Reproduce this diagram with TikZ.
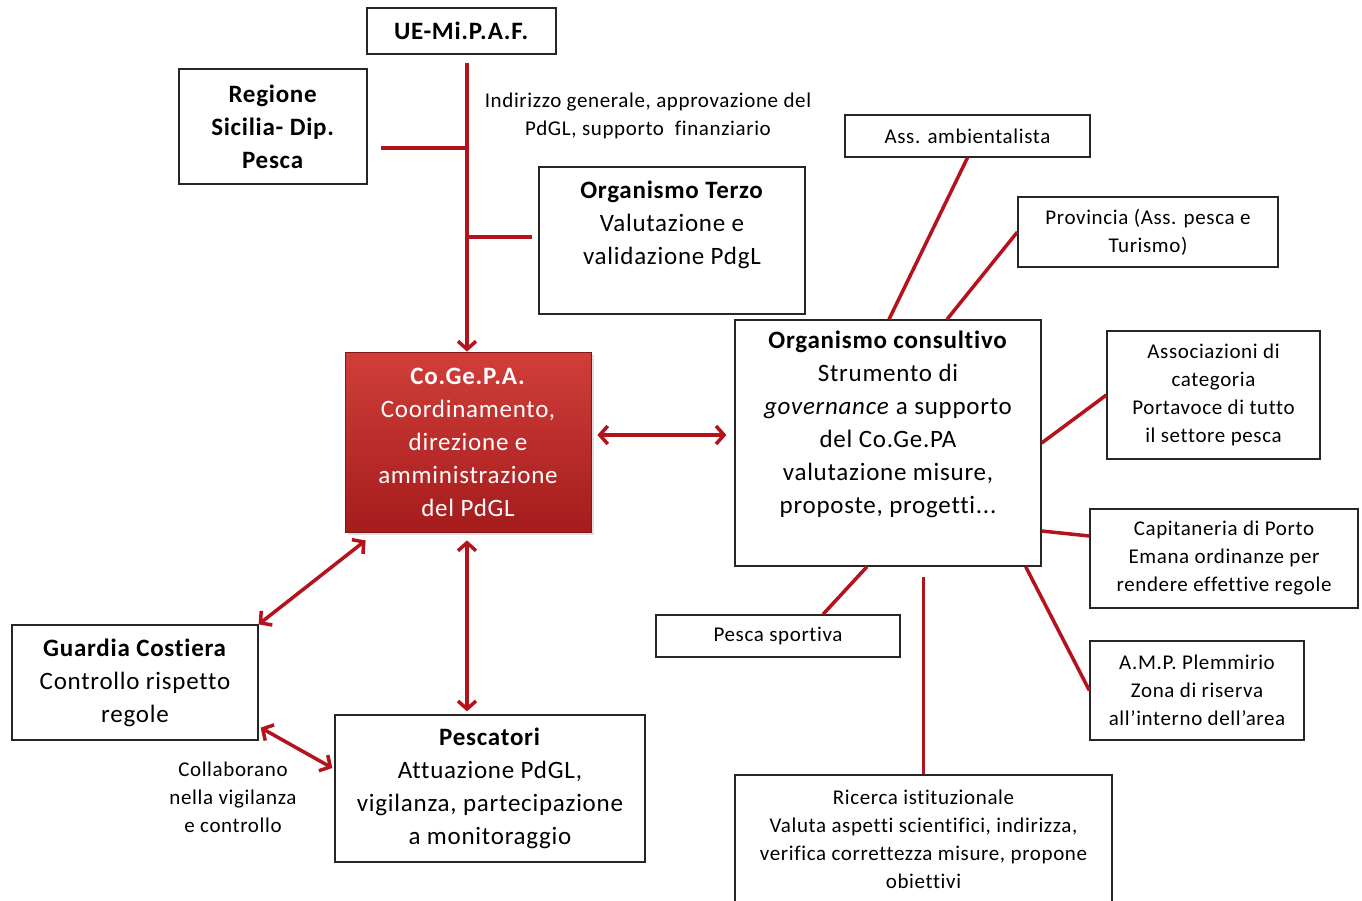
\documentclass[tikz,border=0pt]{standalone}
\usepackage{fontspec}
\setmainfont{Carlito}[LetterSpace=3,Ligatures={NoCommon}]
\usetikzlibrary{arrows.meta,shadows}
\definecolor{lnred}{RGB}{180,18,28}
\definecolor{cogtop}{RGB}{208,62,58}
\definecolor{cogbot}{RGB}{165,28,28}
\tikzset{
  box/.style={draw=black!85, line width=1.3pt, fill=white, inner sep=0pt, align=center},
  bigtxt/.style={font=\fontsize{25}{33}\selectfont},
  smalltxt/.style={font=\fontsize{21}{28}\selectfont},
  link/.style={draw=lnred, line width=3.5pt},
  barb/.tip={Straight Barb[length=8pt,width=18pt]},
  dbl/.style={link, barb-barb},
  sgl/.style={link, -barb},
}
\begin{document}
\begin{tikzpicture}[x=1pt,y=-1pt]
\useasboundingbox[fill=white] (0,0) rectangle (1362,901);

% --- left / top part
\node[box, bigtxt, minimum width=189, minimum height=46] (ue) at (461.5,31) {\textbf{UE-Mi.P.A.F.}};
\node[box, bigtxt, minimum width=188, minimum height=115] (reg) at (273,126.5) {\textbf{Regione}\\\textbf{Sicilia- Dip.}\\\textbf{Pesca}};
\node[box, minimum width=266, minimum height=147] (terzo) at (672,240.5) {};
\node[bigtxt, align=center, inner sep=0pt] (terzot) at (672,224.5) {\textbf{Organismo Terzo}\\Valutazione e\\validazione PdgL};
\node[smalltxt, align=center, inner sep=0pt] (indir) at (648,116) {Indirizzo generale, approvazione del\\PdGL, supporto\ \ finanziario};

\node[draw=cogbot!80!black, line width=0.8pt, top color=cogtop, bottom color=cogbot, minimum width=246, minimum height=180, inner sep=0pt, align=center, text=white, bigtxt, drop shadow={opacity=0.25, shadow xshift=3pt, shadow yshift=-3pt}] (cog) at (468,442) {\textbf{Co.Ge.P.A.}\\Coordinamento,\\direzione e\\amministrazione\\del PdGL};

\node[box, bigtxt, minimum width=246, minimum height=115] (guard) at (135,682.5) {\textbf{Guardia Costiera}\\Controllo rispetto\\regole};
\node[box, bigtxt, minimum width=310, minimum height=147] (pesc) at (490,788.5) {\textbf{Pescatori}\\Attuazione PdGL,\\vigilanza, partecipazione\\a monitoraggio};
\node[smalltxt, align=center, inner sep=0pt] (collab) at (233,797) {Collaborano\\nella vigilanza\\e controllo};

% --- right part
\node[box, minimum width=306, minimum height=246] (cons) at (888,443) {};
\node[bigtxt, align=center, inner sep=0pt] (const) at (888,424.5) {\textbf{Organismo consultivo}\\Strumento di\\\textit{governance} a supporto\\del Co.Ge.PA\\valutazione misure,\\proposte, progetti...};
\node[box, smalltxt, minimum width=245, minimum height=42] (amb) at (967.5,136) {Ass. ambientalista};
\node[box, smalltxt, minimum width=260, minimum height=70] (prov) at (1148,232) {Provincia (Ass. pesca e\\Turismo)};
\node[box, smalltxt, minimum width=213, minimum height=128] (assoc) at (1213.5,395) {Associazioni di\\categoria\\Portavoce di tutto\\il settore pesca};
\node[box, smalltxt, minimum width=268, minimum height=99] (cap) at (1224,558.5) {Capitaneria di Porto\\Emana ordinanze per\\rendere effettive regole};
\node[box, smalltxt, minimum width=214, minimum height=99] (amp) at (1197,690.5) {A.M.P. Plemmirio\\Zona di riserva\\all'interno dell'area};
\node[box, smalltxt, minimum width=244, minimum height=42] (sport) at (778,636) {Pesca sportiva};
\node[box, smalltxt, minimum width=377, minimum height=128] (ric) at (923.5,839) {Ricerca istituzionale\\Valuta aspetti scientifici, indirizza,\\verifica correttezza misure, propone\\obiettivi};

% --- connectors
\coordinate (vtop) at (467,63);
\coordinate (j1) at (467,148);
\coordinate (j2) at (467,237);
\draw[sgl] (vtop) -- (vtop |- cog.north);
\draw[link] ([xshift=13pt]reg.east |- j1) -- (j1);
\draw[link] (j2) -- ([xshift=-6pt]terzo.west |- j2);

\draw[dbl] ([xshift=6pt,yshift=7pt]cog.east) -- ([xshift=-8pt,yshift=8pt]cons.west);
\draw[dbl] ([xshift=21pt,yshift=-8pt]cog.south west) -- (guard.north east);
\coordinate (cogb) at ([xshift=-1pt,yshift=-8pt]cog.south);
\coordinate (pesct) at ([yshift=3pt]pesc.north);
\draw[dbl] (cogb) -- (cogb |- pesct);
\draw[dbl] ([xshift=2pt,yshift=13pt]guard.south east) -- ([xshift=-2pt,yshift=20.5pt]pesc.west);

\draw[link] (amb.south) -- ([xshift=1pt]cons.north);
\draw[link] (prov.west) -- ([xshift=59pt]cons.north);
\draw[link] (assoc.west) -- (cons.east);
\draw[link] ([yshift=22.5pt]cap.west) -- ([yshift=-88pt]cons.east);
\draw[link] (amp.west) -- ([xshift=-16pt]cons.south east);
\draw[link] ([xshift=45pt]sport.north) -- ([xshift=-21pt]cons.south);
\coordinate (cb) at ([yshift=-10pt]cons.south);
\draw[link] (ric.north) -- (ric.north |- cb);
\end{tikzpicture}
\end{document}
